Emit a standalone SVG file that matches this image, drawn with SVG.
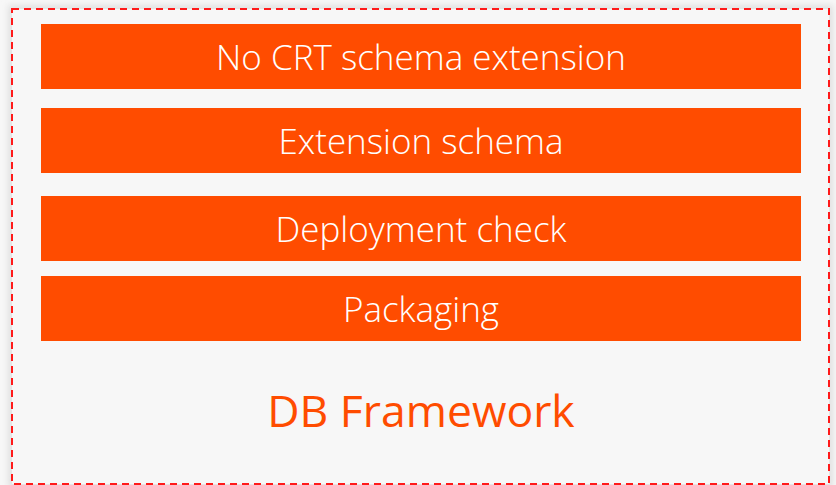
<svg xmlns="http://www.w3.org/2000/svg" width="836" height="485" viewBox="0 0 836 485">
<defs>
<filter id="sh" x="-5%" y="-5%" width="110%" height="110%"><feGaussianBlur stdDeviation="3"/></filter>
<style>
.bar{fill:#ff4c00}
.lbl{fill:#ffffff;font-family:"Open Sans","Noto Sans","Liberation Sans",sans-serif;font-weight:300;font-size:35px;text-anchor:middle}
.title{fill:#ff4c00;font-family:"Open Sans","Noto Sans","Liberation Sans",sans-serif;font-weight:400;font-size:44.5px;text-anchor:middle}
</style>
</defs>
<rect width="836" height="485" fill="#f7f7f7"/>
<rect x="12" y="9" width="817" height="475" fill="none" stroke="#e0e0e0" stroke-width="8" filter="url(#sh)"/>
<rect x="12" y="9" width="817" height="475" fill="#f7f7f7"/>
<g id="frame">
<rect x="12" y="9" width="817" height="475" fill="none" stroke="#ff1a1a" stroke-width="2" stroke-dasharray="7,5"/>
<text class="title" x="421" y="427">DB Framework</text>
</g>
<g id="node1"><rect class="bar" x="41" y="24" width="760" height="65"/><text class="lbl" x="421" y="70">No CRT schema extension</text></g>
<g id="node2"><rect class="bar" x="41" y="108" width="760" height="65"/><text class="lbl" x="421" y="154">Extension schema</text></g>
<g id="node3"><rect class="bar" x="41" y="196" width="760" height="65"/><text class="lbl" x="421" y="242">Deployment check</text></g>
<g id="node4"><rect class="bar" x="41" y="276" width="760" height="65"/><text class="lbl" x="421" y="322">Packaging</text></g>
<g id="connectors"></g>
</svg>
